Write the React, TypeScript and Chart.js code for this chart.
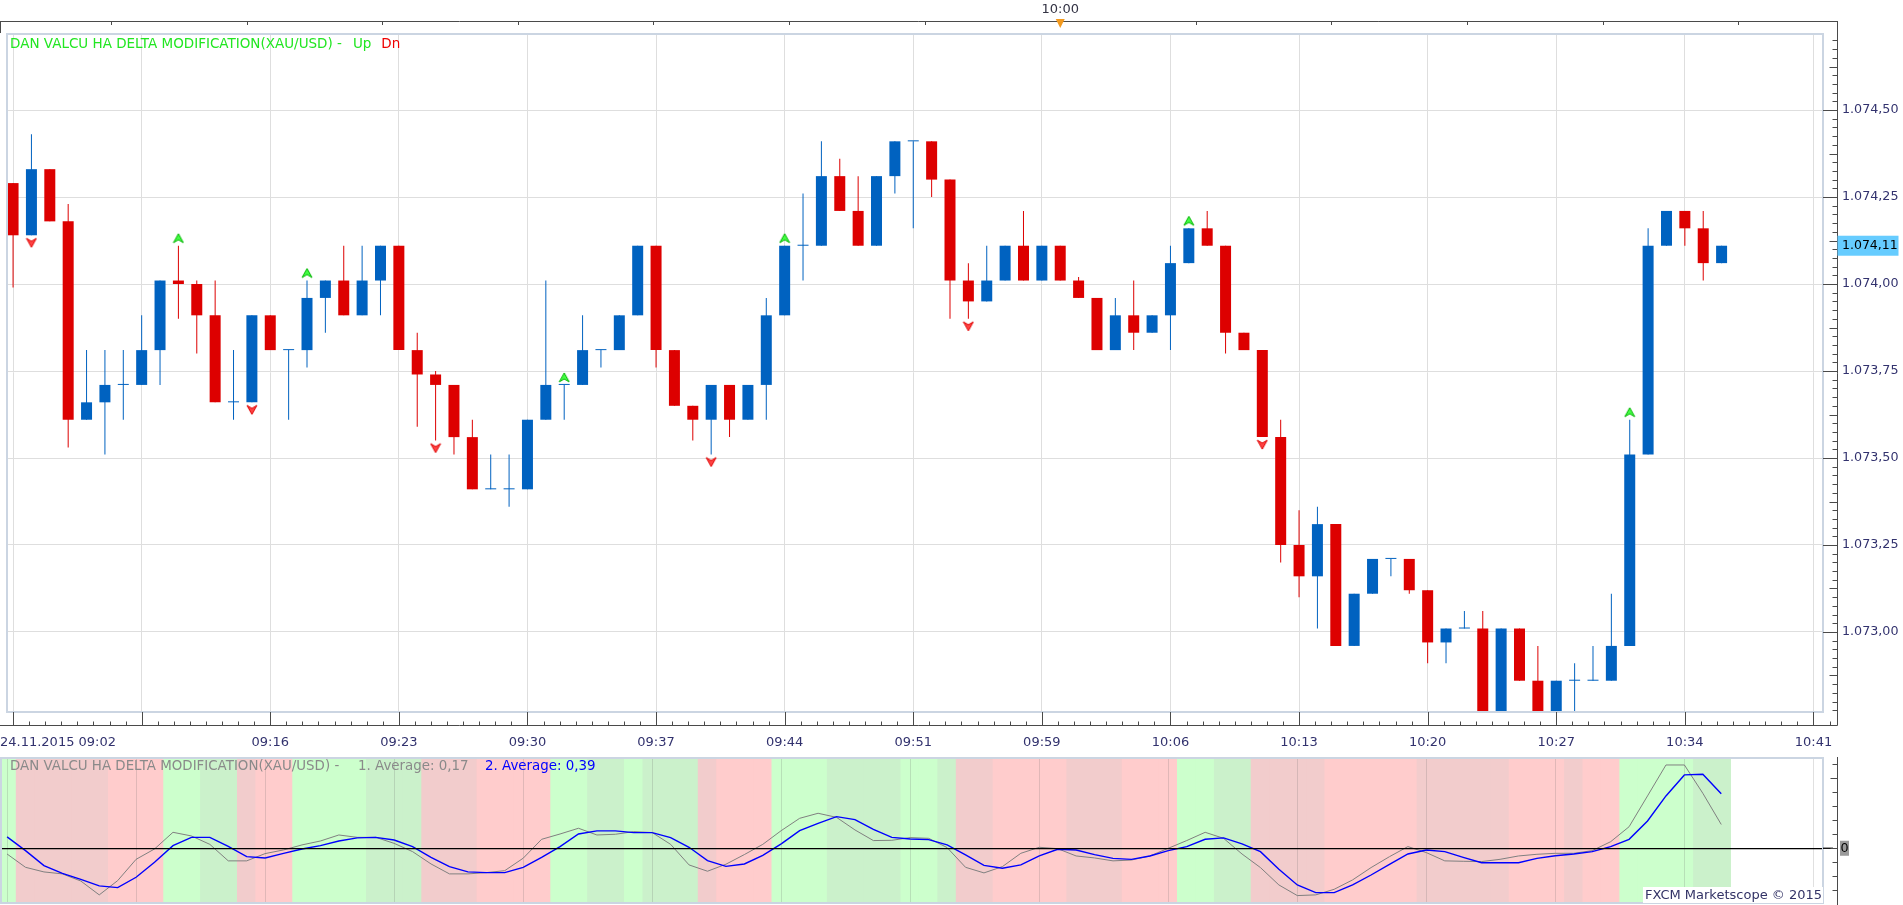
import React, { useEffect, useRef } from 'react';
import { Chart, registerables } from 'chart.js';

Chart.register(...registerables);

// ---------- data ----------
const timeLabels = ['24.11.2015 09:02', '09:09', '09:16', '09:23', '09:30', '09:37', '09:44', '09:51', '09:59', '10:06', '10:13', '10:20', '10:27', '10:34', '10:41'];
const barsPerLabel = 7;

const openVals = [
  1074.29, 1074.14, 1074.33, 1074.18, 1073.61, 1073.66, 1073.71, 1073.71, 1073.81, 1074.01,
  1074.00, 1073.91, 1073.66, 1073.66, 1073.91, 1073.81, 1073.81, 1073.96, 1074.01, 1073.91,
  1074.01, 1074.11, 1073.81, 1073.74, 1073.71, 1073.56, 1073.41, 1073.41, 1073.41, 1073.61,
  1073.71, 1073.71, 1073.81, 1073.81, 1073.91, 1074.11, 1073.81, 1073.65, 1073.61, 1073.71,
  1073.61, 1073.71, 1073.91, 1074.11, 1074.11, 1074.31, 1074.21, 1074.11, 1074.31, 1074.41,
  1074.41, 1074.30, 1074.01, 1073.95, 1074.01, 1074.11, 1074.01, 1074.11, 1074.01, 1073.96,
  1073.81, 1073.91, 1073.86, 1073.91, 1074.06, 1074.16, 1074.11, 1073.86, 1073.81, 1073.56,
  1073.25, 1073.16, 1073.31, 1072.96, 1073.11, 1073.21, 1073.21, 1073.12, 1072.97, 1073.01,
  1073.01, 1072.76, 1073.01, 1072.86, 1072.76, 1072.86, 1072.86, 1072.86, 1072.96, 1073.51,
  1074.11, 1074.21, 1074.16, 1074.06,
];
const highVals = [
  1074.29, 1074.43, 1074.33, 1074.23, 1073.81, 1073.81, 1073.81, 1073.91, 1074.01, 1074.11,
  1074.01, 1074.01, 1073.81, 1073.91, 1073.91, 1073.81, 1074.01, 1074.01, 1074.11, 1074.11,
  1074.11, 1074.11, 1073.86, 1073.75, 1073.71, 1073.61, 1073.51, 1073.51, 1073.61, 1074.01,
  1073.71, 1073.91, 1073.81, 1073.91, 1074.11, 1074.11, 1073.81, 1073.65, 1073.71, 1073.71,
  1073.71, 1073.96, 1074.11, 1074.26, 1074.41, 1074.36, 1074.31, 1074.31, 1074.41, 1074.41,
  1074.41, 1074.30, 1074.06, 1074.11, 1074.11, 1074.21, 1074.11, 1074.11, 1074.02, 1073.96,
  1073.96, 1074.01, 1073.91, 1074.11, 1074.16, 1074.21, 1074.11, 1073.86, 1073.81, 1073.61,
  1073.35, 1073.36, 1073.31, 1073.11, 1073.21, 1073.21, 1073.21, 1073.12, 1073.01, 1073.06,
  1073.06, 1073.01, 1073.01, 1072.96, 1072.86, 1072.91, 1072.96, 1073.11, 1073.61, 1074.16,
  1074.21, 1074.21, 1074.21, 1074.11,
];
const lowVals = [
  1073.99, 1074.14, 1074.18, 1073.53, 1073.61, 1073.51, 1073.61, 1073.71, 1073.71, 1073.90,
  1073.80, 1073.66, 1073.61, 1073.66, 1073.81, 1073.61, 1073.76, 1073.86, 1073.91, 1073.91,
  1073.91, 1073.81, 1073.59, 1073.55, 1073.51, 1073.41, 1073.41, 1073.36, 1073.41, 1073.61,
  1073.61, 1073.71, 1073.76, 1073.81, 1073.91, 1073.76, 1073.65, 1073.55, 1073.51, 1073.56,
  1073.61, 1073.61, 1073.91, 1074.01, 1074.11, 1074.21, 1074.11, 1074.11, 1074.26, 1074.16,
  1074.25, 1073.90, 1073.90, 1073.95, 1074.01, 1074.01, 1074.01, 1074.01, 1073.96, 1073.81,
  1073.81, 1073.81, 1073.86, 1073.81, 1074.06, 1074.11, 1073.80, 1073.81, 1073.56, 1073.20,
  1073.10, 1073.01, 1072.96, 1072.96, 1073.11, 1073.16, 1073.11, 1072.91, 1072.91, 1073.01,
  1072.74, 1072.74, 1072.86, 1072.74, 1072.74, 1072.74, 1072.86, 1072.86, 1072.96, 1073.51,
  1074.11, 1074.11, 1074.01, 1074.06,
];
const closeVals = [
  1074.14, 1074.33, 1074.18, 1073.61, 1073.66, 1073.71, 1073.71, 1073.81, 1074.01, 1074.00,
  1073.91, 1073.66, 1073.66, 1073.91, 1073.81, 1073.81, 1073.96, 1074.01, 1073.91, 1074.01,
  1074.11, 1073.81, 1073.74, 1073.71, 1073.56, 1073.41, 1073.41, 1073.41, 1073.61, 1073.71,
  1073.71, 1073.81, 1073.81, 1073.91, 1074.11, 1073.81, 1073.65, 1073.61, 1073.71, 1073.61,
  1073.71, 1073.91, 1074.11, 1074.11, 1074.31, 1074.21, 1074.11, 1074.31, 1074.41, 1074.41,
  1074.30, 1074.01, 1073.95, 1074.01, 1074.11, 1074.01, 1074.11, 1074.01, 1073.96, 1073.81,
  1073.91, 1073.86, 1073.91, 1074.06, 1074.16, 1074.11, 1073.86, 1073.81, 1073.56, 1073.25,
  1073.16, 1073.31, 1072.96, 1073.11, 1073.21, 1073.21, 1073.12, 1072.97, 1073.01, 1073.01,
  1072.76, 1073.01, 1072.86, 1072.76, 1072.86, 1072.86, 1072.86, 1072.96, 1073.51, 1074.11,
  1074.21, 1074.16, 1074.06, 1074.11,
];
const upSignalIdx = [9, 16, 30, 42, 64, 88];
const downSignalIdx = [1, 13, 23, 38, 52, 68];
const priceTicks = [1073.0, 1073.25, 1073.5, 1073.75, 1074.0, 1074.25, 1074.5];

// oscillator panel
const avg1Vals = [
  -0.041, -0.136, -0.169, -0.183, -0.234, -0.333, -0.231, -0.079, -0.005, 0.114,
  0.088, 0.028, -0.090, -0.090, -0.038, -0.012, 0.024, 0.052, 0.095, 0.078,
  0.078, 0.035, -0.024, -0.112, -0.183, -0.183, -0.174, -0.160, -0.071, 0.064,
  0.102, 0.143, 0.095, 0.100, 0.119, 0.112, 0.028, -0.119, -0.164, -0.114,
  -0.045, 0.028, 0.126, 0.214, 0.250, 0.221, 0.131, 0.055, 0.057, 0.076,
  0.071, 0.005, -0.136, -0.176, -0.131, -0.036, 0.007, -0.003, -0.055, -0.069,
  -0.090, -0.084, -0.055, 0.000, 0.055, 0.114, 0.071, -0.041, -0.138, -0.262,
  -0.338, -0.333, -0.293, -0.226, -0.138, -0.060, 0.012, -0.031, -0.090, -0.093,
  -0.095, -0.079, -0.055, -0.043, -0.036, -0.036, -0.017, 0.047, 0.154, 0.374,
  0.595, 0.595, 0.393, 0.170,
];
const avg2Vals = [
  0.081, -0.017, -0.124, -0.179, -0.222, -0.269, -0.281, -0.207, -0.100, 0.019,
  0.078, 0.078, 0.014, -0.060, -0.069, -0.036, -0.005, 0.019, 0.052, 0.074,
  0.078, 0.059, 0.012, -0.065, -0.131, -0.169, -0.174, -0.174, -0.136, -0.065,
  0.012, 0.102, 0.124, 0.124, 0.112, 0.112, 0.076, 0.007, -0.088, -0.129,
  -0.112, -0.050, 0.031, 0.126, 0.178, 0.226, 0.205, 0.135, 0.078, 0.066,
  0.062, 0.024, -0.048, -0.122, -0.143, -0.119, -0.055, -0.007, -0.012, -0.045,
  -0.072, -0.079, -0.055, -0.017, 0.012, 0.064, 0.074, 0.031, -0.024, -0.150,
  -0.262, -0.317, -0.317, -0.262, -0.191, -0.115, -0.041, -0.012, -0.024, -0.065,
  -0.103, -0.103, -0.103, -0.072, -0.053, -0.041, -0.024, 0.012, 0.064, 0.195,
  0.374, 0.524, 0.529, 0.390,
];
// G = strong up, g = weak up, R = strong down, r = weak down
const bandStates = 'GrrrrrRRRGGggrRRGGGGgggrrrRRRRGGggGgggrRRRGGGggggGGgrrRRRRrrrRRRGGggrrrrRRRRRrrrrrRRRrRRGGGGgg'.split('');

// ---------- styles ----------
const FONT = '"DejaVu Sans", Verdana, sans-serif';
const RED = '#DD0000';
const BLUE = '#0062C0';
const GRID = '#DEDEDE';
const FRAME = '#CBD5E2';
const AXIS = '#4A4A4A';
const LABEL = '#32326E';
const BAND_COLORS: Record<string, string> = { G: '#CCFFCC', g: '#CBF1CB', R: '#FFCCCC', r: '#F2CCCC' };

const W = 1903;
const MAIN_H = 757;
const LOW_H = 148;
const X_MIN = -0.33;
const X_MAX = 98.52;
const Y_MIN = 1072.7701;
const Y_MAX = 1074.7213;
const LOW_MIN = -0.391;
const LOW_MAX = 0.652;
const AXIS_X = 1837.5;
const topMarkIdx = 57;
const topMarkLabel = '10:00';
const topTickStep = 7.38;

const xTickIdx = timeLabels.map((_, k) => k * barsPerLabel);

function fmtPrice(v: number) {
  const s = v.toFixed(2);
  const [ip, dp] = s.split('.');
  return ip.replace(/\B(?=(\d{3})+(?!\d))/g, '.') + ',' + dp;
}
function fmtDec(v: number) {
  return v.toFixed(2).replace('.', ',');
}

function makeArrow(up: boolean) {
  const c = document.createElement('canvas');
  c.width = 12;
  c.height = 26;
  const g = c.getContext('2d')!;
  g.beginPath();
  if (up) {
    g.moveTo(6, 1); g.lineTo(11, 10); g.lineTo(6, 7); g.lineTo(1, 10);
  } else {
    g.moveTo(6, 25); g.lineTo(11, 16); g.lineTo(6, 19); g.lineTo(1, 16);
  }
  g.closePath();
  g.fillStyle = up ? '#44FF44' : '#FF4444';
  g.fill();
  g.lineWidth = 1;
  g.strokeStyle = up ? '#00B400' : '#E00000';
  g.stroke();
  return c;
}

const mainDecor = {
  id: 'mainDecor',
  afterDraw(chart: any) {
    const ctx = chart.ctx;
    const xs = chart.scales.x;
    const ys = chart.scales.y;
    const ca = chart.chartArea;
    ctx.save();

    // plot frame
    ctx.strokeStyle = FRAME;
    ctx.lineWidth = 2;
    ctx.strokeRect(ca.left, ca.top + 1, ca.right - ca.left, ca.bottom - ca.top - 1);

    ctx.strokeStyle = AXIS;
    ctx.lineWidth = 1;
    // top time strip
    ctx.beginPath();
    ctx.moveTo(0, 21.5); ctx.lineTo(AXIS_X, 21.5);
    ctx.moveTo(0.5, 21); ctx.lineTo(0.5, ca.top);
    for (let k = -12; k <= 12; k++) {
      const px = Math.round(xs.getPixelForValue(topMarkIdx + k * topTickStep)) + 0.5;
      if (px > 2 && px < AXIS_X - 2) { ctx.moveTo(px, 21.5); ctx.lineTo(px, 25); }
    }
    ctx.stroke();

    // bottom time axis
    const axY = 725.5;
    ctx.beginPath();
    ctx.moveTo(0, axY); ctx.lineTo(AXIS_X, axY);
    xTickIdx.forEach((v) => {
      const px = Math.round(xs.getPixelForValue(v)) + 0.5;
      ctx.moveTo(px, ca.bottom); ctx.lineTo(px, axY);
      for (let m = 1; m < 8; m++) {
        const mp = Math.round(xs.getPixelForValue(v + (m * barsPerLabel) / 8)) + 0.5;
        if (mp < AXIS_X - 1) { ctx.moveTo(mp, axY - 4); ctx.lineTo(mp, axY); }
      }
    });
    // price axis
    ctx.moveTo(AXIS_X, 21); ctx.lineTo(AXIS_X, axY);
    for (let j = 0; ; j++) {
      const v = 1072.775 + j * 0.025;
      if (v > Y_MAX) break;
      const py = Math.round(ys.getPixelForValue(v)) + 0.5;
      const r = Math.round(v * 1000) % 250;
      const len = r === 0 ? AXIS_X - ca.right : r === 125 ? 8 : 5;
      ctx.moveTo(AXIS_X - len, py); ctx.lineTo(AXIS_X, py);
    }
    ctx.stroke();

    // time labels
    ctx.font = '13px ' + FONT;
    ctx.fillStyle = LABEL;
    ctx.textBaseline = 'middle';
    ctx.textAlign = 'left';
    let lastRight = -Infinity;
    timeLabels.forEach((t, k) => {
      const px = xs.getPixelForValue(k * barsPerLabel);
      const w = ctx.measureText(t).width;
      const left = k === 0 ? 0 : px - w / 2;
      if (left < lastRight + 20) return;
      ctx.fillText(t, left, 743);
      lastRight = left + w;
    });

    // top marker
    const mx = xs.getPixelForValue(topMarkIdx);
    ctx.textAlign = 'center';
    ctx.fillStyle = '#333344';
    ctx.fillText(topMarkLabel, mx, 10);
    ctx.fillStyle = '#F39A1E';
    ctx.beginPath();
    ctx.moveTo(mx - 4.5, 19); ctx.lineTo(mx + 4.5, 19); ctx.lineTo(mx, 28); ctx.closePath();
    ctx.fill();

    // last price highlight
    const last = closeVals[closeVals.length - 1];
    const ly = ys.getPixelForValue(last);
    ctx.fillStyle = '#66CCFF';
    ctx.fillRect(AXIS_X, ly - 10, 61, 20);
    ctx.fillStyle = '#000';
    ctx.textAlign = 'left';
    ctx.font = '12.5px ' + FONT;
    ctx.fillText(fmtPrice(last), 1842, ly + 0.5);

    // legend
    ctx.font = '13.5px ' + FONT;
    const title = 'DAN VALCU HA DELTA MODIFICATION(XAU/USD) -';
    ctx.fillStyle = '#22E622';
    ctx.fillText(title, 10, 44);
    let lx = 10 + ctx.measureText(title).width + 11;
    ctx.fillText('Up', lx, 44);
    lx += ctx.measureText('Up').width + 10;
    ctx.fillStyle = '#EE0000';
    ctx.fillText('Dn', lx, 44);
    ctx.restore();
  },
};

const lowDecor = {
  id: 'lowDecor',
  afterDraw(chart: any) {
    const ctx = chart.ctx;
    const ys = chart.scales.y;
    const ca = chart.chartArea;
    ctx.save();
    ctx.strokeStyle = FRAME;
    ctx.lineWidth = 2;
    ctx.strokeRect(ca.left, ca.top + 1, ca.right - ca.left, ca.bottom - ca.top - 1);

    const zy = ys.getPixelForValue(0);
    ctx.strokeStyle = '#000';
    ctx.lineWidth = 1.3;
    ctx.beginPath();
    ctx.moveTo(ca.right, zy); ctx.lineTo(1833, zy);
    ctx.stroke();

    ctx.strokeStyle = AXIS;
    ctx.lineWidth = 1;
    ctx.beginPath();
    ctx.moveTo(AXIS_X, 0); ctx.lineTo(AXIS_X, LOW_H);
    for (let j = -3; j <= 6; j++) {
      const py = Math.round(ys.getPixelForValue(j / 10)) + 0.5;
      const len = j === 0 || j === 5 ? 7 : 5;
      ctx.moveTo(AXIS_X - len, py); ctx.lineTo(AXIS_X, py);
    }
    ctx.stroke();

    ctx.font = '12.7px ' + FONT;
    ctx.textBaseline = 'middle';
    ctx.textAlign = 'left';
    ctx.fillStyle = '#9A9A9A';
    ctx.fillRect(1840, zy - 7.5, 9, 15);
    ctx.fillStyle = '#000';
    ctx.fillText('0', 1840.5, zy + 0.5);

    // titles
    ctx.font = '13.4px ' + FONT;
    const t1 = 'DAN VALCU HA DELTA MODIFICATION(XAU/USD) -';
    const t2 = '1. Average: ' + fmtDec(avg1Vals[avg1Vals.length - 1]);
    const t3 = '2. Average: ' + fmtDec(avg2Vals[avg2Vals.length - 1]);
    ctx.fillStyle = '#8A8A8A';
    ctx.fillText(t1, 10, 9.5);
    ctx.fillText(t2, 358, 9.5);
    ctx.fillStyle = '#0000FF';
    ctx.fillText(t3, 485, 9.5);

    // watermark
    ctx.font = '13px ' + FONT;
    const wm = 'FXCM Marketscope \u00A9 2015';
    const ww = ctx.measureText(wm).width;
    ctx.fillStyle = '#FFFFFF';
    ctx.fillRect(ca.right - ww - 3, 130, ww + 3, 16);
    ctx.fillStyle = '#333366';
    ctx.textAlign = 'right';
    ctx.fillText(wm, ca.right - 1, 138.5);
    ctx.restore();
  },
};

function mainConfig(): any {
  const colors = openVals.map((o, i) => (closeVals[i] >= o ? BLUE : RED));
  return {
    type: 'bar',
    data: {
      datasets: [
        {
          type: 'scatter',
          data: upSignalIdx.map((i) => ({ x: i, y: highVals[i] })),
          pointStyle: makeArrow(true),
          pointRadius: 6,
          order: 0,
        },
        {
          type: 'scatter',
          data: downSignalIdx.map((i) => ({ x: i, y: lowVals[i] })),
          pointStyle: makeArrow(false),
          pointRadius: 6,
          order: 0,
        },
        {
          type: 'bar',
          data: openVals.map((o, i) => ({ x: i, y: [o, closeVals[i]] })),
          backgroundColor: colors,
          barThickness: 11,
          minBarLength: 1,
          grouped: false,
          inflateAmount: 0,
          borderWidth: 0,
          order: 1,
        },
        {
          type: 'bar',
          data: lowVals.map((l, i) => ({ x: i, y: [l, highVals[i]] })),
          backgroundColor: colors,
          barThickness: 1,
          grouped: false,
          inflateAmount: 0,
          borderWidth: 0,
          order: 2,
        },
      ],
    },
    options: {
      responsive: false,
      maintainAspectRatio: false,
      animation: false,
      events: [],
      layout: { padding: { top: 33, left: 1, right: 0, bottom: 0 } },
      plugins: { legend: { display: false }, tooltip: { enabled: false } },
      scales: {
        x: {
          type: 'linear',
          min: X_MIN,
          max: X_MAX,
          offset: false,
          grid: { offset: false, color: GRID, lineWidth: 1, drawTicks: false },
          border: { display: false },
          ticks: { display: false },
          afterBuildTicks: (ax: any) => { ax.ticks = xTickIdx.map((v) => ({ value: v })); },
          afterFit: (ax: any) => { ax.height = MAIN_H - 712; },
        },
        y: {
          type: 'linear',
          position: 'right',
          min: Y_MIN,
          max: Y_MAX,
          beginAtZero: false,
          grid: { color: GRID, lineWidth: 1, drawTicks: false },
          border: { display: false },
          ticks: {
            padding: 19,
            color: LABEL,
            font: { size: 12.7, family: FONT },
            callback: (v: any) => fmtPrice(Number(v)),
          },
          afterBuildTicks: (ax: any) => { ax.ticks = priceTicks.map((v) => ({ value: v })); },
          afterFit: (ax: any) => { ax.width = 80; },
        },
      },
    },
    plugins: [mainDecor],
  };
}

function lowConfig(): any {
  return {
    type: 'bar',
    data: {
      datasets: [
        {
          type: 'line',
          data: avg2Vals.map((v, i) => ({ x: i, y: v })),
          borderColor: '#0000FF',
          borderWidth: 1.4,
          pointRadius: 0,
          tension: 0,
          order: 0,
        },
        {
          type: 'line',
          data: avg1Vals.map((v, i) => ({ x: i, y: v })),
          borderColor: '#808080',
          borderWidth: 1,
          pointRadius: 0,
          tension: 0,
          order: 1,
        },
        {
          type: 'bar',
          data: bandStates.map((_, i) => ({ x: i, y: [-1, 1] })),
          backgroundColor: bandStates.map((s) => BAND_COLORS[s]),
          barPercentage: 1,
          categoryPercentage: 1,
          grouped: false,
          inflateAmount: 0.5,
          borderWidth: 0,
          order: 2,
        },
      ],
    },
    options: {
      responsive: false,
      maintainAspectRatio: false,
      animation: false,
      events: [],
      layout: { padding: { top: 0, left: 1, right: 0, bottom: 0 } },
      plugins: { legend: { display: false }, tooltip: { enabled: false } },
      scales: {
        x: {
          type: 'linear',
          min: X_MIN,
          max: X_MAX,
          offset: false,
          grid: { offset: false, color: 'rgba(100,100,100,0.2)', lineWidth: 1, drawTicks: false, z: 1 },
          border: { display: false },
          ticks: { display: false },
          afterBuildTicks: (ax: any) => { ax.ticks = xTickIdx.map((v) => ({ value: v })); },
          afterFit: (ax: any) => { ax.height = 2; },
        },
        y: {
          type: 'linear',
          position: 'right',
          min: LOW_MIN,
          max: LOW_MAX,
          beginAtZero: false,
          grid: { color: '#000000', lineWidth: 1.3, drawTicks: false, z: 1 },
          border: { display: false },
          ticks: { display: false },
          afterBuildTicks: (ax: any) => { ax.ticks = [{ value: 0 }]; },
          afterFit: (ax: any) => { ax.width = 80; },
        },
      },
    },
    plugins: [lowDecor],
  };
}

export default function App() {
  const mainRef = useRef<HTMLCanvasElement>(null);
  const lowRef = useRef<HTMLCanvasElement>(null);

  useEffect(() => {
    Chart.defaults.font.family = FONT;
    const main = new Chart(mainRef.current!, mainConfig());
    const low = new Chart(lowRef.current!, lowConfig());
    return () => {
      main.destroy();
      low.destroy();
    };
  }, []);

  return (
    <div style={{ position: 'absolute', left: 0, top: 0, width: W, height: MAIN_H + LOW_H, background: '#FFFFFF' }}>
      <canvas ref={mainRef} width={W} height={MAIN_H} style={{ position: 'absolute', left: 0, top: 0, width: W, height: MAIN_H }} />
      <canvas ref={lowRef} width={W} height={LOW_H} style={{ position: 'absolute', left: 0, top: MAIN_H, width: W, height: LOW_H }} />
    </div>
  );
}
